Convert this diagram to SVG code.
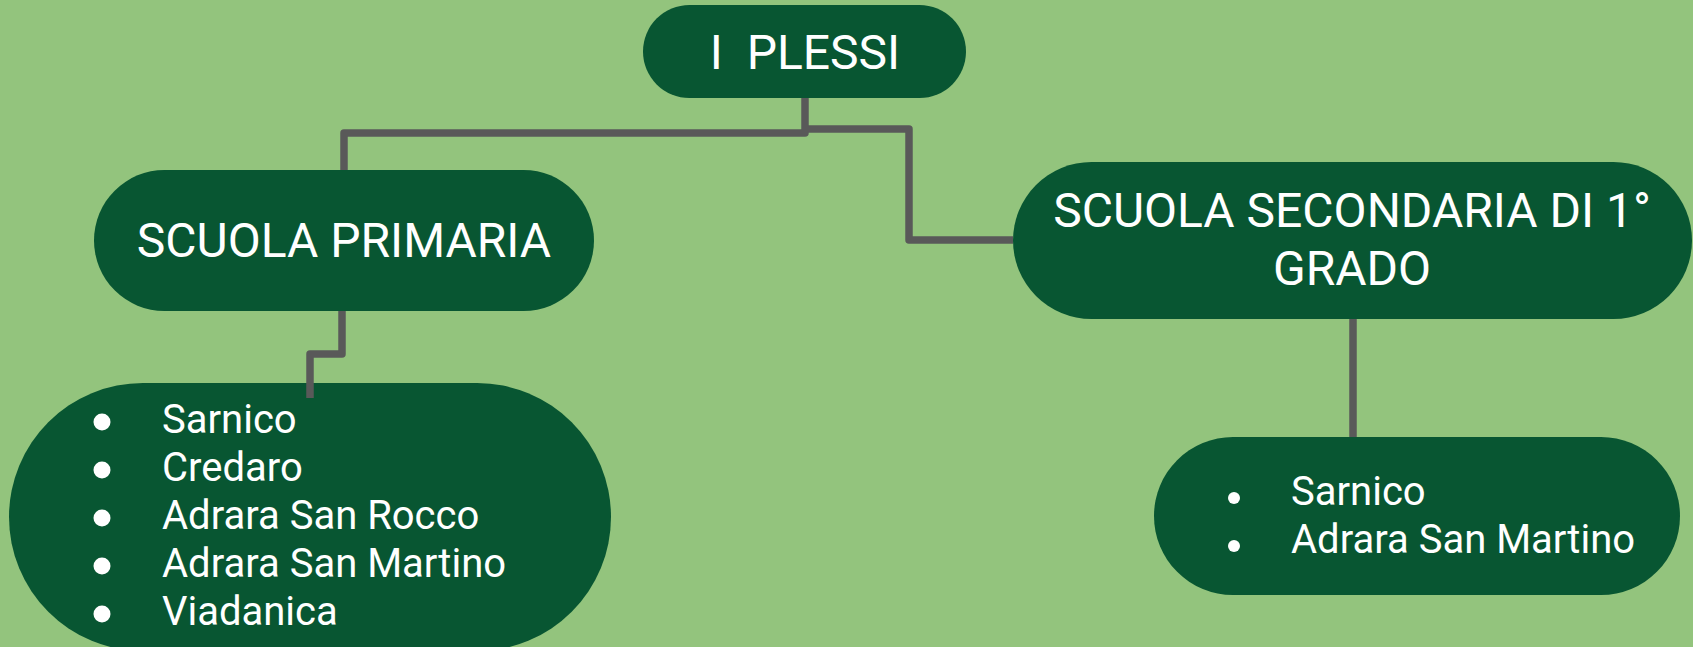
<svg xmlns="http://www.w3.org/2000/svg" width="1693" height="647" viewBox="0 0 1693 647">
<style>
.node{fill:#085632;}
.t{font-family:Roboto,"Liberation Sans",sans-serif;fill:#ffffff;}
.h{font-size:48px;text-anchor:middle;}
.li{font-size:40px;}
.b{fill:#ffffff;}
.c{fill:none;stroke:#595959;stroke-width:7.5;stroke-linejoin:round;}
</style>
<rect width="1693" height="647" fill="#93c47d"/>
<g id="n-plessi">
<rect class="node" x="643" y="5" width="323" height="93" rx="46.5"/>
<text class="t h" x="805" y="69" xml:space="preserve">I  PLESSI</text>
</g>
<g id="n-primaria">
<rect class="node" x="94" y="170" width="500" height="141" rx="70.5"/>
<text class="t h" x="344" y="257">SCUOLA PRIMARIA</text>
</g>
<g id="n-primaria-list">
<rect class="node" x="9" y="383" width="602" height="268" rx="134"/>
<circle class="b" cx="102" cy="422" r="8.5"/>
<circle class="b" cx="102" cy="470" r="8.5"/>
<circle class="b" cx="102" cy="518" r="8.5"/>
<circle class="b" cx="102" cy="566" r="8.5"/>
<circle class="b" cx="102" cy="614" r="8.5"/>
<text class="t li" x="162" y="433">Sarnico</text>
<text class="t li" x="162" y="481">Credaro</text>
<text class="t li" x="162" y="529">Adrara San Rocco</text>
<text class="t li" x="162" y="577">Adrara San Martino</text>
<text class="t li" x="162" y="625">Viadanica</text>
</g>
<g id="n-secondaria">
<rect class="node" x="1013" y="162" width="679" height="157" rx="78.5"/>
<text class="t h" x="1352" y="227">SCUOLA SECONDARIA DI 1°</text>
<text class="t h" x="1352" y="285">GRADO</text>
</g>
<g id="n-secondaria-list">
<rect class="node" x="1154" y="437" width="526" height="158" rx="79"/>
<circle class="b" cx="1234" cy="498" r="6"/>
<circle class="b" cx="1234" cy="546" r="6"/>
<text class="t li" x="1291" y="505">Sarnico</text>
<text class="t li" x="1291" y="553">Adrara San Martino</text>
</g>
<g id="connectors">
<path class="c" d="M805 98 V133 H344 V170"/>
<path class="c" d="M805 129 H909 V240 H1013"/>
<path class="c" d="M342 311 V354 H310 V398"/>
<path class="c" d="M1353 319 V437"/>
</g>
</svg>
